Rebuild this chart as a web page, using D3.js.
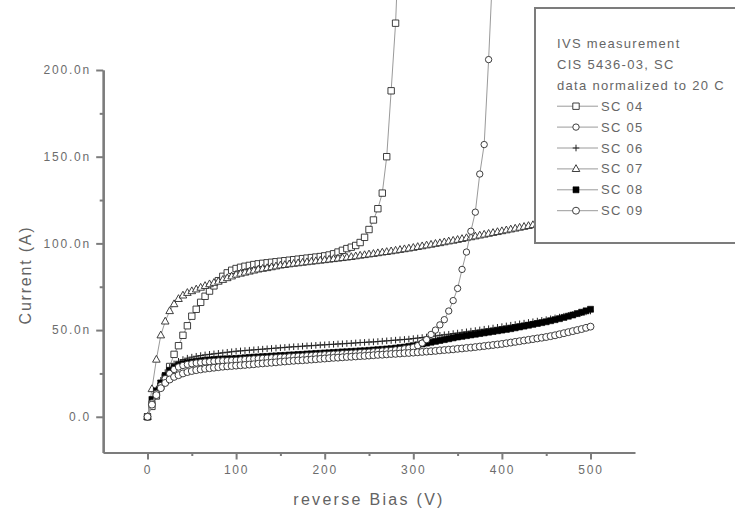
<!DOCTYPE html>
<html>
<head>
<meta charset="utf-8">
<script src="https://cdn.jsdelivr.net/npm/d3@7/dist/d3.min.js"></script>
<style>
  html, body { margin: 0; padding: 0; background: #fff; }
  svg { display: block; }
  text { font-family: "Liberation Sans", Arial, sans-serif; }
</style>
</head>
<body>
<svg id="chart" width="735" height="517"></svg>
<script>
// Reverse bias sweep (V), 5 V steps
const voltage = [0,5,10,15,20,25,30,35,40,45,50,55,60,65,70,75,80,85,90,95,
  100,105,110,115,120,125,130,135,140,145,150,155,160,165,170,175,180,185,190,195,
  200,205,210,215,220,225,230,235,240,245,250,255,260,265,270,275,280,285,290,295,
  300,305,310,315,320,325,330,335,340,345,350,355,360,365,370,375,380,385,390,395,
  400,405,410,415,420,425,430,435,440,445,450,455,460,465,470,475,480,485,490,495,500];

// Leakage current in nA, one array per sample
const sc04 = [0,6,12,17.5,23,29,36,41,47,52.5,58,62,66,69.5,72.5,75.5,78.5,81,83,84.5,
  85.5,86.2,86.8,87.3,87.8,88.2,88.5,88.8,89.1,89.4,89.7,90,90.3,90.6,90.9,91.2,91.5,91.8,92.1,92.4,
  92.8,93.3,94,95,96,97,97.8,98.8,100.5,103.5,108,113.5,120,129,150,188,227,290];

const sc05 = [0,8,13.5,18,22,25,27.3,28.7,29.6,30.2,30.6,31,31.3,31.6,31.8,32,32.2,32.3,32.4,32.5,
  32.6,32.8,33,33.2,33.4,33.5,33.7,33.8,34,34.1,34.3,34.4,34.6,34.7,34.9,35,35.2,35.3,35.5,35.6,
  35.8,35.9,36.1,36.2,36.4,36.5,36.7,36.8,37,37.1,37.3,37.5,37.7,37.9,38.1,38.3,38.6,38.9,39.2,39.6,
  40.1,41,42.5,44.5,47.5,50,53,56,61,67,74,85,95,107,118,140,157,206,262];

const sc06 = [0,9,16,21,25.5,28.5,30.5,32,33,33.8,34.4,34.9,35.3,35.7,36,36.3,36.6,36.9,37.2,37.5,
  37.8,38,38.2,38.4,38.6,38.8,39,39.2,39.4,39.6,39.8,40,40.2,40.4,40.5,40.7,40.9,41,41.2,41.4,
  41.5,41.7,41.8,42,42.1,42.3,42.4,42.6,42.8,42.9,43.1,43.2,43.4,43.6,43.8,44,44.2,44.4,44.6,44.8,
  45.1,45.4,45.7,46,46.3,46.6,47,47.3,47.6,48,48.3,48.7,49,49.4,49.7,50.1,50.5,50.8,51.2,51.6,
  52,52.4,52.8,53.2,53.6,54,54.4,54.8,55.2,55.6,56,56.5,57,57.5,58,58.5,59,59.5,60,60.5,61];

const sc07 = [0,16,33,47,55,61,65,68,70,71.5,72.5,73.5,74.5,75.5,76.5,77.3,78,79,80,81,
  82,82.6,83.2,83.8,84.4,85,85.4,85.8,86.3,86.8,87.3,87.6,88,88.3,88.6,88.9,89.2,89.5,89.8,90.1,
  90.4,90.7,91,91.3,91.6,91.9,92.2,92.6,93,93.3,93.7,94,94.4,94.8,95.1,95.5,95.9,96.3,96.7,97.1,
  97.5,98,98.4,98.9,99.3,99.8,100.2,100.7,101.2,101.6,102.1,102.6,103.1,103.6,104.1,104.6,105.1,105.6,106.1,106.6,
  107.1,107.6,108.1,108.6,109.1,109.6,110.1,110.6,111.1,111.6,112.1,112.6,113.1,113.6,114.1,114.6,115.1,115.6,116.1,116.6,117.1];

const sc08 = [0,10,15,19.5,23.5,26.5,28.5,29.8,30.6,31.2,31.6,32,32.3,32.6,32.8,33,33.2,33.3,33.4,33.5,
  33.6,33.8,34,34.2,34.4,34.5,34.7,34.8,35,35.1,35.3,35.4,35.6,35.7,35.9,36,36.2,36.3,36.5,36.6,
  36.8,36.9,37.1,37.2,37.4,37.5,37.7,37.8,38,38.1,38.3,38.5,38.7,38.9,39.1,39.3,39.6,39.9,40.2,40.6,
  41,41.5,42,42.5,43,43.5,44,44.5,45,45.5,46,46.4,46.8,47.2,47.6,48,48.4,48.8,49.2,49.6,
  50,50.4,50.8,51.3,51.8,52.3,52.8,53.3,53.8,54.3,54.8,55.4,56,56.6,57.3,58,58.7,59.5,60.3,61.1,62];

const sc09 = [0,7,12.5,16.5,19.5,21.5,23,24,25,25.8,26.4,26.9,27.3,27.7,28,28.3,28.6,28.9,29.1,29.3,
  29.5,29.7,29.9,30.1,30.3,30.6,30.8,31,31.2,31.4,31.7,31.9,32.1,32.3,32.5,32.6,32.8,33,33.2,33.4,
  33.6,33.8,34,34.1,34.3,34.5,34.6,34.8,35,35.1,35.3,35.5,35.7,35.8,36,36.2,36.3,36.5,36.7,36.8,
  37,37.2,37.4,37.6,37.8,38,38.3,38.5,38.7,38.9,39.2,39.4,39.7,39.9,40.2,40.5,40.8,41.1,41.4,41.7,
  42,42.4,42.8,43.2,43.6,44,44.4,44.8,45.2,45.6,46,46.5,47,47.6,48.2,48.8,49.4,50,50.6,51.3,52];

const seriesNames = ["SC 04", "SC 05", "SC 06", "SC 07", "SC 08", "SC 09"];
const seriesValues = [sc04, sc05, sc06, sc07, sc08, sc09];
const seriesSymbols = ["square", "smallCircle", "plus", "triangle", "filledSquare", "circle"];
// stacking order of the plotted curves (SC 05 sits on top of SC 08)
const drawOrder = [0, 2, 3, 4, 1, 5];

const legendHeader = ["IVS measurement", "CIS 5436-03, SC", "data normalized to 20 C"];

const xTicks = [0, 100, 200, 300, 400, 500];
const xMinorTicks = [50, 150, 250, 350, 450];
const yTicks = [0, 50, 100, 150, 200];
const yTickLabels = ["0.0", "50.0n", "100.0n", "150.0n", "200.0n"];
const yMinorTicks = [25, 75, 125, 175];

const svg = d3.select("#chart");

const x = d3.scaleLinear().domain([-50, 550]).range([103.2, 634.8]);
const y = d3.scaleLinear().domain([-20.6, 200]).range([452.5, 70]);

const axisColor = "#7c7c7c";
const textColor = "#6c6c6c";
const lineColor = "#9a9a9a";

// Marker shapes (path strings centred on 0,0)
const markerPath = {
  square: "M-3.2,-3.2H3.2V3.2H-3.2Z",
  filledSquare: "M-3,-3H3V3H-3Z",
  circle: d3.symbol(d3.symbolCircle, 38)(),
  smallCircle: d3.symbol(d3.symbolCircle, 32)(),
  triangle: "M0,-4.2L3.8,2.6H-3.8Z",
  plus: "M-3.3,0H3.3M0,-3.3V3.3"
};
function styleMarker(sel, kind) {
  if (kind === "filledSquare") {
    sel.attr("fill", "#000").attr("stroke", "#000").attr("stroke-width", 0.6);
  } else if (kind === "plus") {
    sel.attr("fill", "none").attr("stroke", "#222").attr("stroke-width", 1);
  } else {
    sel.attr("fill", "#fff").attr("stroke", "#2a2a2a").attr("stroke-width", 0.9);
  }
}

// Axes
const gx = svg.append("g").attr("transform", `translate(0,${y.range()[0]})`)
  .call(d3.axisBottom(x).tickValues(xTicks).tickSize(7).tickSizeOuter(0).tickPadding(6));
const gxMinor = svg.append("g").attr("transform", `translate(0,${y.range()[0]})`)
  .call(d3.axisBottom(x).tickValues(xMinorTicks).tickSize(3.5).tickSizeOuter(0).tickFormat(""));
const gy = svg.append("g").attr("transform", `translate(${x.range()[0]},0)`)
  .call(d3.axisLeft(y).tickValues(yTicks).tickFormat((d, i) => yTickLabels[i])
    .tickSize(7).tickSizeOuter(0).tickPadding(7));
const gyMinor = svg.append("g").attr("transform", `translate(${x.range()[0]},0)`)
  .call(d3.axisLeft(y).tickValues(yMinorTicks).tickSize(3.5).tickSizeOuter(0).tickFormat(""));

[gx, gxMinor, gy, gyMinor].forEach(g => {
  g.selectAll("path.domain").attr("stroke", axisColor).attr("stroke-width", 2.2);
  g.selectAll(".tick line").attr("stroke", axisColor).attr("stroke-width", 2);
  g.selectAll(".tick text").attr("fill", textColor)
    .style("font-size", "12px").style("letter-spacing", "1.8px")
    .style("font-family", '"Liberation Sans", Arial, sans-serif');
});
gy.selectAll(".tick text").attr("dx", "1.8px");

// Axis titles
svg.append("text")
  .attr("x", 369).attr("y", 505)
  .attr("text-anchor", "middle")
  .attr("fill", "#636363")
  .style("font-size", "16px").style("letter-spacing", "2.3px")
  .text("reverse Bias (V)");
svg.append("text")
  .attr("transform", "translate(31,275) rotate(-90)")
  .attr("text-anchor", "middle")
  .attr("fill", "#636363")
  .style("font-size", "16px").style("letter-spacing", "1.8px")
  .text("Current (A)");

// Data: connecting line then markers for each sample
const plot = svg.append("g");
drawOrder.forEach(si => {
  const vals = seriesValues[si];
  const pts = vals.map((v, i) => [voltage[i], v]);
  const g = plot.append("g").attr("class", "series");
  g.append("path")
    .attr("d", d3.line().x(d => x(d[0])).y(d => y(d[1]))(pts))
    .attr("fill", "none").attr("stroke", lineColor).attr("stroke-width", 1);
  const kind = seriesSymbols[si];
  g.selectAll("path.mk").data(pts).join("path")
    .attr("class", "mk")
    .attr("d", markerPath[kind])
    .attr("transform", d => `translate(${x(d[0])},${y(d[1])})`)
    .call(styleMarker, kind);
});

// Legend box
const legend = svg.append("g");
legend.append("rect")
  .attr("x", 535).attr("y", 8).attr("width", 230).attr("height", 235)
  .attr("fill", "#fff").attr("stroke", axisColor).attr("stroke-width", 2);

const rowY = k => 43.5 + k * 20.9;
legendHeader.forEach((t, k) => {
  legend.append("text")
    .attr("x", 557).attr("y", rowY(k) + 4.5)
    .attr("fill", "#666")
    .style("font-size", "13px").style("letter-spacing", "1.3px")
    .text(t);
});
seriesNames.forEach((name, si) => {
  const cy = rowY(si + 3);
  legend.append("line")
    .attr("x1", 557).attr("x2", 598).attr("y1", cy).attr("y2", cy)
    .attr("stroke", lineColor).attr("stroke-width", 1);
  const kind = seriesSymbols[si];
  legend.append("path")
    .attr("d", markerPath[kind])
    .attr("transform", `translate(576,${cy})`)
    .call(styleMarker, kind);
  legend.append("text")
    .attr("x", 601).attr("y", cy + 4.5)
    .attr("fill", "#666")
    .style("font-size", "13px").style("letter-spacing", "1.3px")
    .text(name);
});
</script>
</body>
</html>
